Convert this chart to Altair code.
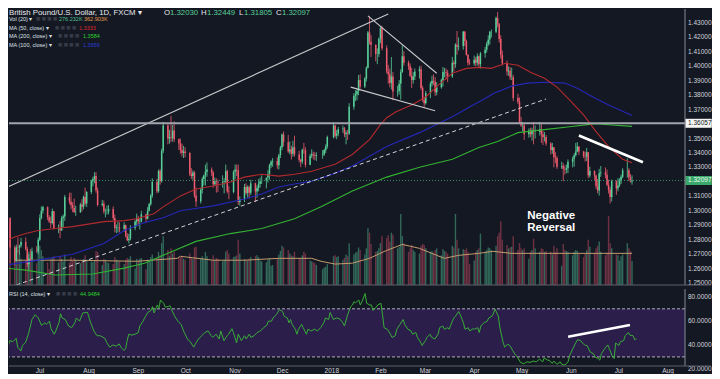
import altair as alt
import pandas as pd

# ---------------- data: GBP/USD daily bars  (day, high, low, close, volume in K) ----------------
FIRST_OPEN = 1.2935
JUN17 = [(7,1.2978,1.2915,1.2950,300),(8,1.2976,1.2930,1.2950,380),(9,1.2955,1.2636,1.2745,720),
         (12,1.2760,1.2620,1.2655,420),(13,1.2765,1.2650,1.2747,380),(14,1.2815,1.2710,1.2745,400),
         (15,1.2765,1.2695,1.2760,360),(16,1.2812,1.2745,1.2784,300),(19,1.2815,1.2725,1.2736,280),
         (20,1.2750,1.2610,1.2630,340),(21,1.2700,1.2590,1.2670,380),(22,1.2735,1.2650,1.2665,300),
         (23,1.2745,1.2660,1.2720,290),(26,1.2755,1.2710,1.2718,250),(27,1.2815,1.2700,1.2800,420),
         (28,1.2975,1.2790,1.2950,450),(29,1.3030,1.2940,1.3000,400),(30,1.3035,1.2980,1.3025,330)]
JUL17 = [(3,1.3030,1.2935,1.2955,260),(4,1.2970,1.2915,1.2925,180),(5,1.2960,1.2880,1.2915,290),
         (6,1.3015,1.2905,1.2997,310),(7,1.3000,1.2870,1.2880,330),(10,1.2905,1.2845,1.2880,260),
         (11,1.2930,1.2810,1.2865,330),(12,1.2965,1.2860,1.2950,300),(13,1.2975,1.2885,1.2960,270),
         (14,1.3110,1.2930,1.3095,350),(17,1.3125,1.3045,1.3065,260),(18,1.3125,1.3010,1.3038,320),
         (19,1.3060,1.2990,1.3020,280),(20,1.3085,1.2985,1.2990,310),(21,1.3035,1.2965,1.2990,290),
         (24,1.3055,1.2985,1.3043,250),(25,1.3080,1.2995,1.3028,270),(26,1.3105,1.3010,1.3096,300),
         (27,1.3160,1.3035,1.3050,340),(28,1.3135,1.3025,1.3130,290),(31,1.3215,1.3115,1.3205,270)]
AUG17 = [(1,1.3235,1.3170,1.3220,260),(2,1.3267,1.3190,1.3240,280),(3,1.3267,1.3125,1.3140,390),
         (4,1.3160,1.3030,1.3040,380),(7,1.3075,1.3030,1.3048,230),(8,1.3070,1.2980,1.2995,300),
         (9,1.3015,1.2955,1.2995,290),(10,1.3035,1.2975,1.2995,260),(11,1.3040,1.2975,1.3012,250),
         (14,1.3030,1.2935,1.2950,240),(15,1.2975,1.2850,1.2880,320),(16,1.2905,1.2845,1.2885,290),
         (17,1.2925,1.2850,1.2885,280),(18,1.2920,1.2850,1.2875,270),(21,1.2920,1.2855,1.2900,240),
         (22,1.2905,1.2815,1.2825,290),(23,1.2845,1.2790,1.2795,310),(24,1.2840,1.2774,1.2807,300),
         (25,1.2900,1.2795,1.2880,330),(28,1.2935,1.2865,1.2925,190),(29,1.2980,1.2890,1.2945,300),
         (30,1.2965,1.2895,1.2925,280),(31,1.2950,1.2870,1.2925,300)]
SEP17 = [(1,1.3000,1.2920,1.2975,310),(4,1.2980,1.2920,1.2945,180),(5,1.3025,1.2940,1.3000,290),
         (6,1.3055,1.2995,1.3045,280),(7,1.3115,1.3035,1.3105,320),(8,1.3225,1.3090,1.3200,350),
         (11,1.3220,1.3120,1.3135,300),(12,1.3285,1.3125,1.3275,380),(13,1.3290,1.3180,1.3205,340),
         (14,1.3430,1.3195,1.3415,480),(15,1.3615,1.3400,1.3590,560),(18,1.3600,1.3460,1.3500,400),
         (19,1.3560,1.3465,1.3510,330),(20,1.3657,1.3475,1.3505,420),(21,1.3595,1.3480,1.3555,360),
         (22,1.3620,1.3475,1.3495,380),(25,1.3500,1.3420,1.3468,310),(26,1.3500,1.3395,1.3420,320),
         (27,1.3465,1.3375,1.3400,330),(28,1.3450,1.3365,1.3410,300),(29,1.3440,1.3370,1.3400,290)]
OCT17 = [(2,1.3405,1.3240,1.3255,360),(3,1.3295,1.3220,1.3240,320),(4,1.3280,1.3215,1.3265,300),
         (5,1.3275,1.3090,1.3105,430),(6,1.3160,1.3027,1.3065,440),(9,1.3160,1.3050,1.3145,310),
         (10,1.3235,1.3120,1.3220,330),(11,1.3250,1.3175,1.3245,300),(12,1.3320,1.3175,1.3270,380),
         (13,1.3335,1.3235,1.3285,330),(16,1.3300,1.3240,1.3265,280),(17,1.3275,1.3160,1.3183,340),
         (18,1.3230,1.3175,1.3205,290),(19,1.3225,1.3125,1.3200,310),(20,1.3215,1.3130,1.3195,300),
         (23,1.3245,1.3160,1.3200,270),(24,1.3225,1.3120,1.3202,290),(25,1.3320,1.3190,1.3275,380),
         (26,1.3285,1.3120,1.3133,400),(27,1.3170,1.3080,1.3130,360),(30,1.3280,1.3120,1.3270,320),
         (31,1.3320,1.3220,1.3285,330)]
NOV17 = [(1,1.3320,1.3240,1.3280,340),(2,1.3320,1.3040,1.3060,520),(3,1.3100,1.3035,1.3080,360),
         (6,1.3185,1.3060,1.3165,300),(7,1.3190,1.3110,1.3123,290),(8,1.3175,1.3090,1.3165,280),
         (9,1.3175,1.3085,1.3125,300),(10,1.3215,1.3110,1.3190,320),(13,1.3195,1.3060,1.3133,330),
         (14,1.3175,1.3090,1.3158,340),(15,1.3220,1.3135,1.3185,320),(16,1.3230,1.3160,1.3205,280),
         (17,1.3245,1.3185,1.3210,270),(20,1.3225,1.3155,1.3230,260),(21,1.3280,1.3195,1.3255,290),
         (22,1.3325,1.3215,1.3315,310),(23,1.3350,1.3295,1.3340,220),(24,1.3365,1.3305,1.3345,230),
         (27,1.3370,1.3290,1.3315,300),(28,1.3395,1.3285,1.3385,350),(29,1.3450,1.3365,1.3438,390),
         (30,1.3535,1.3420,1.3528,450)]
DEC17 = [(1,1.3549,1.3445,1.3475,430),(4,1.3525,1.3400,1.3410,400),(5,1.3480,1.3390,1.3425,360),
         (6,1.3450,1.3355,1.3395,340),(7,1.3485,1.3375,1.3440,330),(8,1.3520,1.3375,1.3390,380),
         (11,1.3415,1.3335,1.3353,310),(12,1.3360,1.3302,1.3340,300),(13,1.3430,1.3325,1.3422,340),
         (14,1.3470,1.3395,1.3420,380),(15,1.3440,1.3300,1.3318,360),(18,1.3395,1.3315,1.3380,280),
         (19,1.3425,1.3365,1.3392,270),(20,1.3410,1.3355,1.3385,260),(21,1.3405,1.3350,1.3380,250),
         (22,1.3405,1.3345,1.3385,230),(26,1.3420,1.3360,1.3390,180),(27,1.3430,1.3380,1.3420,200),
         (28,1.3460,1.3400,1.3445,210),(29,1.3520,1.3430,1.3510,240)]
JAN18 = [(2,1.3613,1.3500,1.3590,330),(3,1.3595,1.3505,1.3520,340),(4,1.3560,1.3495,1.3535,320),
         (5,1.3580,1.3515,1.3565,330),(8,1.3590,1.3540,1.3570,290),(9,1.3580,1.3510,1.3530,310),
         (10,1.3555,1.3460,1.3540,350),(11,1.3560,1.3490,1.3535,330),(12,1.3745,1.3525,1.3720,480),
         (15,1.3815,1.3700,1.3795,350),(16,1.3835,1.3760,1.3805,370),(17,1.3845,1.3765,1.3830,380),
         (18,1.3940,1.3800,1.3905,430),(19,1.3945,1.3845,1.3860,400),(22,1.3925,1.3850,1.3915,350),
         (23,1.4000,1.3895,1.3990,420),(24,1.4245,1.3985,1.4235,650),(25,1.4346,1.4150,1.4170,600),
         (26,1.4215,1.4065,1.4150,470),(29,1.4150,1.4035,1.4085,380),(30,1.4125,1.4015,1.4085,390),
         (31,1.4200,1.4065,1.4190,420)]
FEB18 = [(1,1.4280,1.4160,1.4265,480),(2,1.4280,1.4110,1.4125,560),(5,1.4145,1.3950,1.3965,540),
         (6,1.4010,1.3880,1.3945,570),(7,1.3985,1.3855,1.3885,500),(8,1.4065,1.3840,1.3930,600),
         (9,1.3960,1.3765,1.3825,580),(12,1.3865,1.3790,1.3830,420),(13,1.3905,1.3805,1.3880,440),
         (14,1.3980,1.3770,1.3960,815),(15,1.4145,1.3955,1.4070,560),(16,1.4105,1.4005,1.4025,480),
         (19,1.4040,1.3975,1.4000,380),(20,1.4020,1.3925,1.3935,420),(21,1.3990,1.3850,1.3905,460),
         (22,1.3960,1.3880,1.3930,400),(23,1.3985,1.3905,1.3965,380),(26,1.4000,1.3915,1.3980,360),
         (27,1.4005,1.3835,1.3850,450),(28,1.3865,1.3755,1.3765,470)]
MAR18 = [(1,1.3790,1.3712,1.3745,460),(2,1.3830,1.3735,1.3815,420),(5,1.3895,1.3780,1.3880,380),
         (6,1.3935,1.3860,1.3900,390),(7,1.3945,1.3870,1.3895,370),(8,1.3925,1.3795,1.3820,400),
         (9,1.3890,1.3800,1.3855,420),(12,1.3915,1.3845,1.3905,340),(13,1.3995,1.3860,1.3960,410),
         (14,1.3990,1.3925,1.3960,390),(15,1.3985,1.3910,1.3955,380),(16,1.3975,1.3890,1.3930,360),
         (19,1.4065,1.3920,1.4025,450),(20,1.4040,1.3965,1.4015,430),(21,1.4160,1.3990,1.4150,815),
         (22,1.4245,1.4080,1.4135,520),(23,1.4200,1.4110,1.4140,420),(26,1.4245,1.4115,1.4240,410),
         (27,1.4245,1.4140,1.4175,400),(28,1.4185,1.4075,1.4080,420),(29,1.4085,1.4005,1.4025,380),
         (30,1.4050,1.4010,1.4020,240)]
APR18 = [(2,1.4075,1.4005,1.4045,280),(3,1.4065,1.4000,1.4025,380),(4,1.4090,1.4005,1.4070,400),
         (5,1.4075,1.3995,1.4015,420),(6,1.4100,1.3985,1.4090,590),(9,1.4135,1.4060,1.4115,380),
         (10,1.4170,1.4095,1.4155,400),(11,1.4215,1.4140,1.4185,430),(12,1.4245,1.4150,1.4240,420),
         (13,1.4255,1.4200,1.4240,400),(16,1.4345,1.4230,1.4335,450),(17,1.4377,1.4270,1.4295,560),
         (18,1.4300,1.4165,1.4190,600),(19,1.4215,1.4055,1.4080,730),(20,1.4110,1.4005,1.4020,520),
         (23,1.4040,1.3935,1.3965,460),(24,1.4000,1.3935,1.3970,420),(25,1.3995,1.3905,1.3925,430),
         (26,1.3990,1.3905,1.3925,440),(27,1.3940,1.3760,1.3780,560),(30,1.3810,1.3740,1.3755,400)]
MAY18 = [(1,1.3785,1.3600,1.3615,480),(2,1.3650,1.3580,1.3590,420),(3,1.3615,1.3550,1.3590,400),
         (4,1.3605,1.3490,1.3530,420),(7,1.3570,1.3505,1.3555,300),(8,1.3575,1.3510,1.3530,380),
         (9,1.3575,1.3485,1.3560,400),(10,1.3615,1.3460,1.3545,530),(11,1.3590,1.3500,1.3545,420),
         (14,1.3615,1.3520,1.3565,380),(15,1.3600,1.3470,1.3530,420),(16,1.3555,1.3455,1.3510,410),
         (17,1.3545,1.3480,1.3510,380),(18,1.3525,1.3450,1.3465,390),(21,1.3475,1.3390,1.3420,380),
         (22,1.3470,1.3395,1.3440,350),(23,1.3440,1.3300,1.3370,450),(24,1.3405,1.3330,1.3365,380),
         (25,1.3380,1.3290,1.3305,420),(28,1.3340,1.3290,1.3310,220),(29,1.3330,1.3205,1.3290,470),
         (30,1.3315,1.3250,1.3285,400),(31,1.3320,1.3260,1.3295,390)]
JUN18 = [(1,1.3355,1.3260,1.3340,380),(4,1.3375,1.3300,1.3360,340),(5,1.3400,1.3305,1.3385,380),
         (6,1.3470,1.3375,1.3410,400),(7,1.3475,1.3405,1.3445,390),(8,1.3445,1.3385,1.3410,360),
         (11,1.3415,1.3365,1.3380,320),(12,1.3410,1.3340,1.3375,360),(13,1.3435,1.3345,1.3405,400),
         (14,1.3405,1.3225,1.3245,520),(15,1.3305,1.3230,1.3275,440),(18,1.3280,1.3215,1.3245,360),
         (19,1.3250,1.3150,1.3170,420),(20,1.3220,1.3120,1.3140,450),(21,1.3290,1.3105,1.3260,500),
         (22,1.3310,1.3235,1.3265,380),(25,1.3300,1.3225,1.3250,340),(26,1.3285,1.3170,1.3180,370),
         (27,1.3215,1.3120,1.3145,790),(28,1.3165,1.3050,1.3095,480),(29,1.3215,1.3065,1.3205,420)]
JUL18 = [(2,1.3210,1.3110,1.3155,350),(3,1.3225,1.3135,1.3175,340),(4,1.3225,1.3165,1.3205,280),
         (5,1.3250,1.3185,1.3235,330),(6,1.3295,1.3225,1.3280,350),(9,1.3363,1.3230,1.3280,480),
         (10,1.3295,1.3205,1.3230,420),(11,1.3255,1.3195,1.3203,390),(12,1.32449,1.31805,1.32097,276)]
MONTHS = [("2017-06", JUN17), ("2017-07", JUL17), ("2017-08", AUG17), ("2017-09", SEP17),
          ("2017-10", OCT17), ("2017-11", NOV17), ("2017-12", DEC17), ("2018-01", JAN18),
          ("2018-02", FEB18), ("2018-03", MAR18), ("2018-04", APR18), ("2018-05", MAY18),
          ("2018-06", JUN18), ("2018-07", JUL18)]

# moving averages (date, price)
MA50 = [("2017-06-06",1.2795),("2017-06-13",1.2822),("2017-06-19",1.2842),("2017-06-27",1.2863),
        ("2017-07-08",1.2877),("2017-07-19",1.2890),("2017-07-31",1.2911),("2017-08-08",1.2925),
        ("2017-08-21",1.2932),("2017-08-29",1.2945),("2017-09-09",1.2979),("2017-09-15",1.3027),
        ("2017-09-26",1.3103),("2017-10-06",1.3151),("2017-10-17",1.3171),("2017-10-28",1.3199),
        ("2017-11-06",1.3233),("2017-11-17",1.3253),("2017-11-28",1.3240),("2017-12-08",1.3253),
        ("2017-12-19",1.3274),("2018-01-03",1.3322),("2018-01-14",1.3390),("2018-01-25",1.3493),
        ("2018-02-01",1.3596),("2018-02-05",1.3644),("2018-02-11",1.3685),("2018-02-21",1.3733),
        ("2018-03-02",1.3788),("2018-03-10",1.3870),("2018-03-19",1.3952),("2018-03-28",1.3986),
        ("2018-04-05",1.3993),("2018-04-13",1.3986),("2018-04-22",1.4021),("2018-04-30",1.4007),
        ("2018-05-08",1.3959),("2018-05-17",1.3918),("2018-05-25",1.3856),("2018-06-02",1.3767),
        ("2018-06-11",1.3664),("2018-06-19",1.3548),("2018-06-27",1.3445),("2018-07-06",1.3356),
        ("2018-07-12",1.3333)]
MA100 = [("2017-06-06",1.2623),("2017-06-27",1.2658),("2017-07-19",1.2699),("2017-08-08",1.2774),
         ("2017-08-21",1.2863),("2017-09-03",1.2918),("2017-09-15",1.2952),("2017-09-26",1.3000),
         ("2017-10-17",1.3034),("2017-11-06",1.3082),("2017-11-17",1.3116),("2017-11-28",1.3164),
         ("2017-12-08",1.3185),("2017-12-19",1.3205),("2018-01-03",1.3260),("2018-01-14",1.3310),
         ("2018-02-05",1.3445),("2018-02-26",1.3541),("2018-03-19",1.3651),("2018-03-30",1.3719),
         ("2018-04-05",1.3753),("2018-04-15",1.3815),("2018-04-26",1.3863),("2018-05-06",1.3884),
         ("2018-05-17",1.3890),("2018-05-30",1.3884),("2018-06-07",1.3849),("2018-06-17",1.3788),
         ("2018-06-27",1.3733),("2018-07-12",1.3659)]
MA200 = [("2017-06-06",1.2603),("2017-06-19",1.2589),("2017-07-08",1.2555),("2017-08-01",1.2562),
         ("2017-08-21",1.2603),("2017-09-03",1.2637),("2017-09-15",1.2692),("2017-10-06",1.2788),
         ("2017-10-28",1.2842),("2017-11-17",1.2877),("2017-12-08",1.2945),("2017-12-25",1.3027),
         ("2018-01-14",1.3137),("2018-02-05",1.3233),("2018-02-26",1.3301),("2018-03-19",1.3356),
         ("2018-04-05",1.3438),("2018-04-17",1.3479),("2018-04-30",1.3541),("2018-05-17",1.3562),
         ("2018-06-02",1.3582),("2018-06-19",1.3603),("2018-06-27",1.3596),("2018-07-12",1.3584)]
VOL_MA = [("2017-06-12",284),("2017-06-27",284),("2017-07-19",284),("2017-08-29",272),
          ("2017-09-24",306),("2017-09-26",329),("2017-10-17",284),("2017-11-06",284),
          ("2017-11-28",306),("2017-12-19",306),("2017-12-25",272),("2018-01-03",240),
          ("2018-01-14",250),("2018-01-25",306),("2018-02-05",397),("2018-02-15",465),
          ("2018-02-26",420),("2018-03-09",340),("2018-03-14",306),("2018-03-23",340),
          ("2018-04-05",363),("2018-04-14",386),("2018-04-26",363),("2018-06-07",363),
          ("2018-07-12",363)]

# RSI(14) (date, value)
RSI = [("2017-06-06",58.4),("2017-06-08",38.1),("2017-06-10",34.0),("2017-06-12",43.5),("2017-06-14",42.7),
       ("2017-06-16",45.4),("2017-06-17",38.1),("2017-06-19",34.9),("2017-06-20",39.5),("2017-06-22",42.2),
       ("2017-06-24",50.3),("2017-06-26",61.1),("2017-06-28",65.1),("2017-06-30",62.4),("2017-07-02",56.2),
       ("2017-07-04",58.4),("2017-07-05",57.0),("2017-07-07",59.7),("2017-07-08",53.5),("2017-07-10",48.9),
       ("2017-07-11",51.6),("2017-07-13",58.4),("2017-07-14",65.9),("2017-07-15",62.4),("2017-07-17",61.1),
       ("2017-07-19",55.7),("2017-07-21",54.3),("2017-07-23",58.4),("2017-07-24",62.4),("2017-07-26",59.7),
       ("2017-07-28",66.5),("2017-07-30",67.0),("2017-07-31",67.0),("2017-08-02",58.4),("2017-08-04",51.6),
       ("2017-08-06",47.6),("2017-08-08",47.6),("2017-08-11",45.4),("2017-08-12",42.2),("2017-08-14",38.1),
       ("2017-08-16",40.0),("2017-08-18",38.9),("2017-08-20",40.8),("2017-08-21",38.1),("2017-08-23",35.4),
       ("2017-08-24",36.8),("2017-08-25",43.5),("2017-08-26",48.9),("2017-08-28",48.1),("2017-08-30",48.9),
       ("2017-09-01",50.3),("2017-09-02",55.7),("2017-09-04",59.7),("2017-09-05",62.4),("2017-09-07",67.0),
       ("2017-09-09",68.6),("2017-09-10",71.9),("2017-09-11",66.5),("2017-09-13",73.2),("2017-09-14",70.5),
       ("2017-09-15",77.3),("2017-09-17",74.6),("2017-09-18",71.4),("2017-09-20",71.9),("2017-09-21",72.7),
       ("2017-09-22",69.2),("2017-09-24",63.8),("2017-09-26",59.7),("2017-09-28",57.0),("2017-09-30",50.3),
       ("2017-10-02",44.9),("2017-10-04",42.2),("2017-10-06",38.1),("2017-10-07",40.8),("2017-10-09",44.9),
       ("2017-10-11",47.6),("2017-10-13",50.3),("2017-10-15",51.6),("2017-10-17",47.6),("2017-10-18",46.2),
       ("2017-10-20",48.9),("2017-10-22",44.9),("2017-10-23",51.6),("2017-10-25",43.5),("2017-10-27",47.6),
       ("2017-10-28",48.9),("2017-10-30",53.5),("2017-10-31",50.3),("2017-11-02",41.6),("2017-11-03",48.9),
       ("2017-11-05",43.5),("2017-11-07",47.6),("2017-11-08",44.9),("2017-11-10",48.9),("2017-11-11",46.2),
       ("2017-11-13",47.6),("2017-11-15",50.3),("2017-11-17",51.6),("2017-11-19",54.3),("2017-11-21",56.2),
       ("2017-11-22",59.7),("2017-11-24",59.7),("2017-11-25",62.4),("2017-11-27",65.1),("2017-11-29",69.2),
       ("2017-12-01",67.8),("2017-12-02",63.8),("2017-12-04",62.4),("2017-12-05",58.4),("2017-12-06",61.1),
       ("2017-12-07",57.0),("2017-12-09",53.0),("2017-12-10",48.9),("2017-12-11",53.0),("2017-12-13",57.0),
       ("2017-12-14",54.3),("2017-12-16",48.9),("2017-12-17",53.0),("2017-12-19",51.6),("2017-12-21",53.0),
       ("2017-12-23",51.6),("2017-12-25",54.3),("2017-12-27",58.4),("2017-12-28",62.4),("2017-12-30",61.1),
       ("2017-12-31",67.0),("2018-01-02",61.1),("2018-01-04",62.4),("2018-01-06",61.6),("2018-01-08",58.4),
       ("2018-01-09",55.7),("2018-01-11",65.1),("2018-01-13",71.9),("2018-01-14",73.2),("2018-01-15",75.9),
       ("2018-01-16",75.1),("2018-01-18",77.3),("2018-01-19",73.2),("2018-01-20",75.9),("2018-01-22",82.7),
       ("2018-01-23",74.6),("2018-01-25",73.2),("2018-01-26",73.2),("2018-01-27",68.6),("2018-01-29",71.4),
       ("2018-01-30",73.2),("2018-02-01",74.6),("2018-02-02",65.1),("2018-02-03",54.3),("2018-02-05",53.0),
       ("2018-02-07",48.9),("2018-02-08",46.2),("2018-02-10",47.6),("2018-02-11",53.0),("2018-02-13",57.0),
       ("2018-02-15",61.1),("2018-02-16",57.0),("2018-02-18",53.0),("2018-02-20",51.6),("2018-02-21",48.9),
       ("2018-02-23",50.3),("2018-02-24",46.2),("2018-02-26",42.2),("2018-02-27",39.5),("2018-03-01",43.5),
       ("2018-03-02",46.2),("2018-03-04",48.9),("2018-03-05",46.2),("2018-03-07",44.9),("2018-03-09",48.9),
       ("2018-03-10",54.3),("2018-03-12",55.7),("2018-03-13",53.0),("2018-03-15",54.3),("2018-03-16",53.0),
       ("2018-03-18",59.7),("2018-03-19",62.4),("2018-03-20",63.8),("2018-03-22",67.8),("2018-03-23",65.1),
       ("2018-03-25",58.4),("2018-03-26",53.0),("2018-03-28",54.3),("2018-03-29",51.6),("2018-03-31",53.5),
       ("2018-04-01",53.0),("2018-04-03",54.3),("2018-04-04",50.3),("2018-04-05",55.7),("2018-04-07",58.4),
       ("2018-04-09",59.7),("2018-04-10",62.4),("2018-04-12",63.8),("2018-04-13",66.5),("2018-04-14",69.7),
       ("2018-04-16",63.8),("2018-04-17",54.3),("2018-04-19",42.2),("2018-04-20",38.1),("2018-04-22",40.8),
       ("2018-04-24",38.1),("2018-04-25",35.4),("2018-04-27",31.3),("2018-04-28",30.0),("2018-04-30",25.4),
       ("2018-05-02",24.3),("2018-05-04",25.9),("2018-05-06",25.4),("2018-05-08",26.5),("2018-05-10",25.9),
       ("2018-05-12",28.1),("2018-05-14",25.9),("2018-05-15",29.2),("2018-05-17",27.3),("2018-05-18",27.3),
       ("2018-05-20",24.6),("2018-05-21",26.5),("2018-05-23",23.8),("2018-05-25",25.9),("2018-05-26",23.8),
       ("2018-05-28",23.2),("2018-05-30",25.9),("2018-05-31",31.3),("2018-06-02",36.8),("2018-06-04",42.2),
       ("2018-06-05",44.3),("2018-06-07",43.5),("2018-06-08",41.6),("2018-06-10",39.5),("2018-06-11",39.5),
       ("2018-06-13",34.0),("2018-06-15",32.7),("2018-06-16",30.0),("2018-06-18",28.6),("2018-06-19",27.3),
       ("2018-06-20",32.7),("2018-06-22",36.8),("2018-06-24",40.0),("2018-06-25",36.8),("2018-06-27",30.0),
       ("2018-06-28",28.6),("2018-06-29",41.6),("2018-07-01",39.5),("2018-07-02",42.7),("2018-07-04",43.5),
       ("2018-07-05",47.6),("2018-07-07",50.3),("2018-07-08",48.1),("2018-07-10",47.6),("2018-07-11",44.3),
       ("2018-07-12",44.95)]

# drawn trendlines (name, date, value)
PRICE_TRENDS = [("long", "2017-06-06", 1.3158), ("long", "2018-02-06", 1.4363),
                ("wedge_hi", "2018-01-24", 1.4349), ("wedge_hi", "2018-03-09", 1.3952),
                ("wedge_lo", "2018-01-13", 1.3856), ("wedge_lo", "2018-03-08", 1.3692)]
DASHED_TREND = [("2017-06-13", 1.2486), ("2018-05-18", 1.3774)]
LOWER_HIGHS = [("2018-06-08", 1.3521), ("2018-07-19", 1.3336)]
RSI_TREND = [("2018-05-30", 46.8), ("2018-07-08", 56.5)]
LEVEL_PRICE = 1.36057
LAST_PRICE = 1.32097
ANNOT_DATE = "2018-05-06"
ANNOT_LINES = [("Negative", 1.2966), ("Reversal", 1.2884)]
RSI_BAND = (70, 30)

PRICE_TICKS = [1.25, 1.26, 1.27, 1.28, 1.29, 1.30, 1.31, 1.32, 1.33, 1.34, 1.35, 1.36,
               1.37, 1.38, 1.39, 1.40, 1.41, 1.42, 1.43]
RSI_GRID = [40, 60, 80]
RSI_LABELS = [20, 40, 60, 80]
TICK_MONTHS = [(2017, 7, "Jul"), (2017, 8, "Aug"), (2017, 9, "Sep"), (2017, 10, "Oct"),
               (2017, 11, "Nov"), (2017, 12, "Dec"), (2018, 1, "2018"), (2018, 2, "Feb"),
               (2018, 3, "Mar"), (2018, 4, "Apr"), (2018, 5, "May"), (2018, 6, "Jun"),
               (2018, 7, "Jul"), (2018, 8, "Aug")]

# ---------------- frames ----------------
rows = []
prev = FIRST_OPEN
for ym, bars in MONTHS:
    for d, h, l, c, v in bars:
        rows.append({"date": f"{ym}-{d:02d}", "open": prev, "high": h, "low": l, "close": c,
                     "vol": v, "dir": "up" if c >= prev else "down"})
        prev = c
bars_df = pd.DataFrame(rows)

def pairs(lst, name="value"):
    return pd.DataFrame({"date": [a for a, _ in lst], name: [b for _, b in lst]})

month_df = pd.DataFrame({"date": [f"{y}-{m:02d}-01" for y, m, _ in TICK_MONTHS],
                         "txt": [t for _, _, t in TICK_MONTHS]})

# ---------------- style ----------------
FONT = "Liberation Sans"
BG = "#141822"
GRID = "#252934"
SEP = "#5e616c"
AXIS_LINE = "#868992"
LABEL = "#d2d4db"
UP, DOWN = "#58cf99", "#ee5a6e"
VOL_UP, VOL_DOWN = "#31685a", "#6f3245"
W, H_MAIN, H_RSI = 676, 276, 77

X_SCALE = alt.Scale(type="utc", domain=[alt.DateTime(year=2017, month=6, date=11, hours=12, utc=True),
                                        alt.DateTime(year=2018, month=8, date=11, hours=17, utc=True)])
MONTH_TICKS = [alt.DateTime(year=y, month=m, date=1, utc=True) for y, m, _ in TICK_MONTHS]
PRICE_SCALE = alt.Scale(domain=[1.2486, 1.4397], nice=False, zero=False)
VOL_SCALE = alt.Scale(domain=[0, 3165], nice=False)
RSI_SCALE = alt.Scale(domain=[22.43, 86.49], nice=False, zero=False)

grid_x = alt.Axis(values=MONTH_TICKS, grid=True, gridColor=GRID, labels=False, ticks=False, domain=False)
x_grid = alt.X("date:T", scale=X_SCALE, title=None, axis=grid_x)
x_plain = alt.X("date:T", scale=X_SCALE, title=None, axis=None)
price_grid = alt.Axis(values=PRICE_TICKS, grid=True, gridColor=GRID, labels=False, ticks=False, domain=False)
rsi_grid = alt.Axis(values=RSI_GRID, grid=True, gridColor=GRID, labels=False, ticks=False, domain=False)

def py(field, axis=None):
    return alt.Y(field, type="quantitative", scale=PRICE_SCALE, axis=axis, title=None)

def ry(field, axis=None):
    return alt.Y(field, type="quantitative", scale=RSI_SCALE, axis=axis, title=None)

dir_color = alt.condition(alt.datum.dir == "up", alt.value(UP), alt.value(DOWN))
vol_color = alt.condition(alt.datum.dir == "up", alt.value(VOL_UP), alt.value(VOL_DOWN))
one = pd.DataFrame({"k": [0]})

def label(txt, x, y, color="#dfe1e6", size=5.5, baseline="middle", font=FONT):
    return alt.Chart(one).mark_text(align="left", baseline=baseline, fontSize=size, font=font,
                                    color=color).encode(x=alt.value(x), y=alt.value(y), text=alt.value(txt))

def hline(y, x0, x1, color):
    return alt.Chart(one).mark_rule(color=color, strokeWidth=1).encode(
        x=alt.value(x0), x2=alt.value(x1), y=alt.value(y))

def vline(x, y0, y1, color):
    return alt.Chart(one).mark_rule(color=color, strokeWidth=1).encode(
        x=alt.value(x), y=alt.value(y0), y2=alt.value(y1))

# ---------------- main pane ----------------
vol_bars = alt.Chart(bars_df).mark_bar(size=1.4, clip=True).encode(
    x=x_plain, y=alt.Y("vol:Q", scale=VOL_SCALE, axis=None), color=vol_color)
vol_ma = alt.Chart(pairs(VOL_MA, "vol")).mark_line(color="#c39a6e", strokeWidth=1, clip=True).encode(
    x=x_plain, y=alt.Y("vol:Q", scale=VOL_SCALE, axis=None))
volume = alt.layer(vol_bars, vol_ma)

wicks = alt.Chart(bars_df).mark_rule(strokeWidth=0.8, clip=True).encode(
    x=x_grid, y=py("low", price_grid), y2="high:Q", color=dir_color)
bodies = alt.Chart(bars_df).mark_bar(size=1.5, clip=True).encode(
    x=x_plain, y=py("open"), y2="close:Q", color=dir_color)

ma_layers = []
for lst, col in [(MA200, "#33b233"), (MA100, "#2428b8"), (MA50, "#b32a2e")]:
    ma_layers.append(alt.Chart(pairs(lst)).mark_line(color=col, strokeWidth=1.1, clip=True).encode(
        x=x_plain, y=py("value")))

trend_df = pd.DataFrame(PRICE_TRENDS, columns=["name", "date", "value"])
trends = alt.Chart(trend_df).mark_line(color="#c9c9cc", strokeWidth=1.1, clip=True).encode(
    x=x_plain, y=py("value"), detail="name:N")
dashed = alt.Chart(pairs(DASHED_TREND)).mark_line(color="#d4d4d8", strokeWidth=1, strokeDash=[4, 3], clip=True).encode(
    x=x_plain, y=py("value"))
lower_highs = alt.Chart(pairs(LOWER_HIGHS)).mark_line(color="#ffffff", strokeWidth=2.6, clip=True).encode(
    x=x_plain, y=py("value"))

levels_df = pd.DataFrame({"level": [LEVEL_PRICE]})
last_df = pd.DataFrame({"level": [LAST_PRICE]})
level_rule = alt.Chart(levels_df).mark_rule(color="#a2a5ae", strokeWidth=2).encode(y=py("level"))
last_rule = alt.Chart(last_df).mark_rule(color="#3d8f63", strokeWidth=1, strokeDash=[1, 2]).encode(y=py("level"))

price_labels = alt.Chart(pd.DataFrame({"level": PRICE_TICKS})).mark_text(
    align="left", baseline="middle", fontSize=6.5, font=FONT, color=LABEL).encode(
    x=alt.value(W + 3), y=py("level"), text=alt.Text("level:Q", format=".5f"))

RECT = "M-1,-0.34L1,-0.34L1,0.34L-1,0.34Z"
level_box = alt.Chart(levels_df).mark_point(shape=RECT, size=702, filled=True, opacity=1, color="#f4f4f4").encode(
    x=alt.value(W + 13.5), y=py("level"))
level_txt = alt.Chart(levels_df).mark_text(align="left", baseline="middle", fontSize=6.5, font=FONT,
                                           color="#131722").encode(
    x=alt.value(W + 3), y=py("level"), text=alt.Text("level:Q", format=".5f"))
last_box = alt.Chart(last_df).mark_point(shape=RECT, size=702, filled=True, opacity=1, color="#3aa86b").encode(
    x=alt.value(W + 13.5), y=py("level"))
last_txt = alt.Chart(last_df).mark_text(align="left", baseline="middle", fontSize=6.5, font=FONT,
                                        color="#eafff2").encode(
    x=alt.value(W + 3), y=py("level"), text=alt.Text("level:Q", format=".5f"))

annot_df = pd.DataFrame({"date": [ANNOT_DATE] * len(ANNOT_LINES),
                         "value": [p for _, p in ANNOT_LINES], "txt": [t for t, _ in ANNOT_LINES]})
annot = alt.Chart(annot_df).mark_text(align="left", baseline="middle", fontSize=11.5, fontWeight="bold",
                                      font=FONT, color="#ffffff").encode(
    x=x_plain, y=py("value"), text="txt:N")

ICONS = "\u25a0 \u25a0 \u25a0 \u25a0"
ICON_COL = "#363b48"
header = [
    label("British Pound/U.S. Dollar, 1D, FXCM \u25be", 0, 0, "#e8e9ed", 7.8, "top"),
    label("O", 155, 0, "#e8e9ed", 7.8, "top"), label("1.32030", 161, 0, UP, 7.8, "top"),
    label("H", 192, 0, "#e8e9ed", 7.8, "top"), label("1.32449", 198, 0, UP, 7.8, "top"),
    label("L", 230, 0, "#e8e9ed", 7.8, "top"), label("1.31805", 235, 0, UP, 7.8, "top"),
    label("C", 267, 0, "#e8e9ed", 7.8, "top"), label("1.32097", 273, 0, UP, 7.8, "top"),
    label("Vol (20) \u25be", 0, 10), label(ICONS, 27, 10, ICON_COL, 4.5, font="DejaVu Sans"),
    label("276.232K", 50, 10, "#4fbf8c"), label("362.903K", 75, 10, "#e39a4e"),
    label("MA (50, close) \u25be", 0, 18.5), label(ICONS, 46, 18.5, ICON_COL, 4.5, font="DejaVu Sans"),
    label("1.3333", 70, 18.5, "#d8262e"),
    label("MA (200, close) \u25be", 0, 27), label(ICONS, 49, 27, ICON_COL, 4.5, font="DejaVu Sans"),
    label("1.3584", 74, 27, "#2fd12f"),
    label("MA (100, close) \u25be", 0, 35.5), label(ICONS, 49, 35.5, ICON_COL, 4.5, font="DejaVu Sans"),
    label("1.3659", 74, 35.5, "#2b3bd6"),
]

frame_main = [vline(W, 0, H_MAIN, AXIS_LINE), hline(H_MAIN, 0, W + 26, SEP)]

price = alt.layer(wicks, bodies, *ma_layers, trends, dashed, level_rule, last_rule, lower_highs,
                  annot, price_labels, level_box, level_txt, last_box, last_txt, *header, *frame_main)
main = alt.layer(volume, price).resolve_scale(y="independent").properties(width=W, height=H_MAIN)

# ---------------- RSI pane ----------------
band_df = pd.DataFrame({"hi": [RSI_BAND[0]], "lo": [RSI_BAND[1]]})
band = alt.Chart(band_df).mark_rect(color="#3a2262", opacity=0.62).encode(
    x=alt.value(0), x2=alt.value(W), y=ry("hi", rsi_grid), y2="lo:Q")
band_lines = alt.Chart(pd.DataFrame({"level": list(RSI_BAND)})).mark_rule(
    color="#bdbccb", strokeWidth=0.9, strokeDash=[3, 2]).encode(y=ry("level"))
rsi_line = alt.Chart(pairs(RSI)).mark_line(color="#37ad37", strokeWidth=1, clip=True).encode(
    x=x_grid, y=ry("value"))
rsi_trend = alt.Chart(pairs(RSI_TREND)).mark_line(color="#ffffff", strokeWidth=2.6, clip=True).encode(
    x=x_plain, y=ry("value"))
rsi_labels = alt.Chart(pd.DataFrame({"level": RSI_LABELS})).mark_text(
    align="left", baseline="middle", fontSize=6.5, font=FONT, color=LABEL).encode(
    x=alt.value(W + 3), y=ry("level"), text=alt.Text("level:Q", format=".4f"))
month_labels = alt.Chart(month_df).mark_text(
    align="center", baseline="middle", fontSize=6.5, font=FONT, color=LABEL).encode(
    x=x_plain, y=alt.value(H_RSI + 4.5), text="txt:N")
rsi_head = [label("RSI (14, close) \u25be", 0, 5), label(ICONS, 47, 5, ICON_COL, 4.5, font="DejaVu Sans"),
            label("44.9484", 71, 5, "#2fd12f")]
frame_rsi = [vline(W, 0, H_RSI, AXIS_LINE), hline(H_RSI, 0, W + 26, SEP)]
rsi = alt.layer(band, band_lines, rsi_line, rsi_trend, rsi_labels, month_labels, *rsi_head,
                *frame_rsi).properties(width=W, height=H_RSI)

chart = alt.vconcat(main, rsi, spacing=1, padding=0, background=BG).configure_view(stroke=None)

chart.save("out.html", embed_options={"renderer": "svg", "actions": False})
